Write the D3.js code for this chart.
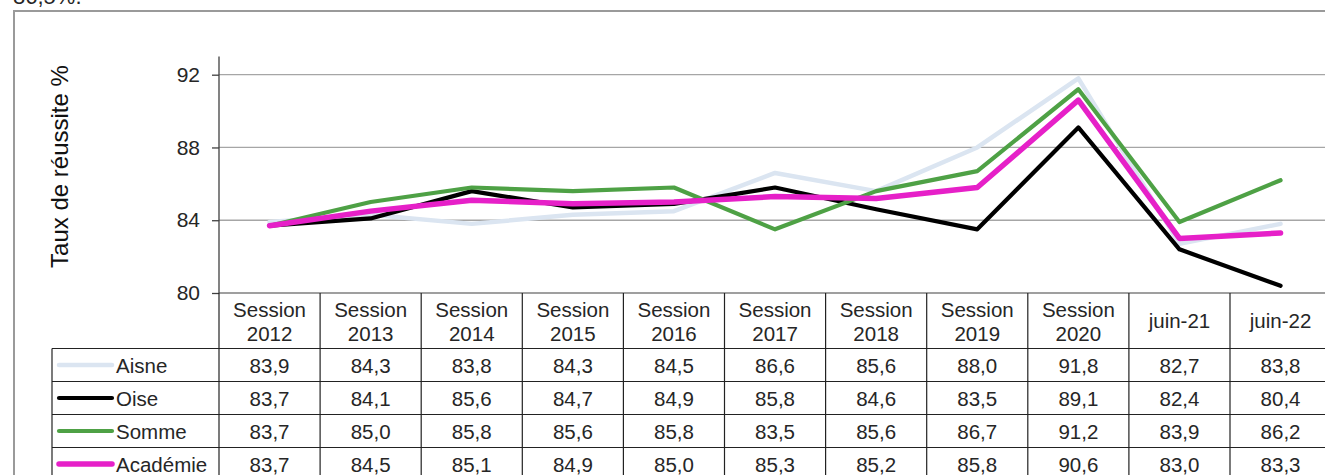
<!DOCTYPE html>
<html><head><meta charset="utf-8">
<script src="https://cdn.jsdelivr.net/npm/d3@7"></script>
<style>body{margin:0;background:#fff;overflow:hidden}svg{display:block;font-family:Arial,"Liberation Sans",sans-serif}</style>
</head><body><svg id="c" width="1325" height="475"></svg>
<script>
const categories = [["Session","2012"],["Session","2013"],["Session","2014"],["Session","2015"],["Session","2016"],["Session","2017"],["Session","2018"],["Session","2019"],["Session","2020"],["juin-21"],["juin-22"]];
const seriesNames = ["Aisne","Oise","Somme","Académie"];
const aisne = [83.9,84.3,83.8,84.3,84.5,86.6,85.6,88.0,91.8,82.7,83.8];
const oise = [83.7,84.1,85.6,84.7,84.9,85.8,84.6,83.5,89.1,82.4,80.4];
const somme = [83.7,85.0,85.8,85.6,85.8,83.5,85.6,86.7,91.2,83.9,86.2];
const academie = [83.7,84.5,85.1,84.9,85.0,85.3,85.2,85.8,90.6,83.0,83.3];
const yTicks = [80,84,88,92];
const colors = ["#dbe5f1","#000000","#4ea145","#e620c8"];
const widths = [4.5,4.2,4.2,5.5];
const values = [aisne, oise, somme, academie];
const FS = 20.5, TXT = "#262626";

const svg = d3.select("#c");
// cut-off text at top (as in reference)
svg.append("text").attr("x",13).attr("y",4).attr("font-size",22).attr("fill",TXT).text("86,5%.");
// outer frame
svg.append("path").attr("d","M14,475 V11 H1325").attr("fill","none").attr("stroke","#9a9a9a").attr("stroke-width",2);

const x0 = 219, colW = 101.1;
const x = d3.scaleBand().domain(d3.range(categories.length)).range([x0, x0 + colW*categories.length]);
const y = d3.scaleLinear().domain([80,93]).range([293,56.5]);

// gridlines
svg.append("g").selectAll("line").data(yTicks.filter(t=>t>80)).join("line")
  .attr("x1",x0).attr("x2",1325).attr("y1",d=>y(d)).attr("y2",d=>y(d))
  .attr("stroke","#a6a6a6").attr("stroke-width",1.3);

// y axis
const ax = svg.append("g").attr("transform",`translate(${x0},0)`)
  .call(d3.axisLeft(y).tickValues(yTicks).tickSize(7).tickPadding(12).tickFormat(d3.format("d")));
ax.select(".domain").attr("stroke","#404040").attr("stroke-width",1.3).attr("d",`M0,${y(93)}V${y(80)}`);
ax.selectAll(".tick line").attr("stroke","#404040").attr("stroke-width",1.3);
ax.selectAll(".tick text").attr("font-size",21).attr("fill",TXT).attr("font-family","Arial,'Liberation Sans',sans-serif");

// y title
svg.append("text").attr("transform",`translate(68,166.5) rotate(-90)`).attr("text-anchor","middle")
  .attr("font-size",24).attr("fill","#111").text("Taux de réussite %");

// lines
const line = d3.line().x((d,i)=>x(i)+x.bandwidth()/2).y(d=>y(d));
svg.append("g").selectAll("path").data(values).join("path")
  .attr("d",line).attr("fill","none").attr("stroke",(d,i)=>colors[i]).attr("stroke-width",(d,i)=>widths[i])
  .attr("stroke-linejoin","round").attr("stroke-linecap","round");

// table
const tTop = y(80), headH = 55.5, rowH = 33, legL = 52;
const tbl = svg.append("g").attr("stroke","#222").attr("stroke-width",1.2);
const tRight = x0 + colW*categories.length;
tbl.append("line").attr("x1",x0).attr("x2",tRight).attr("y1",tTop).attr("y2",tTop).attr("stroke","#404040");
for (let r=0; r<=seriesNames.length; r++) {
  const yy = tTop + headH + r*rowH;
  tbl.append("line").attr("x1",legL).attr("x2",tRight).attr("y1",yy).attr("y2",yy);
}
for (let c=0; c<=categories.length; c++) {
  const xx = x0 + c*colW;
  tbl.append("line").attr("x1",xx).attr("x2",xx).attr("y1",tTop).attr("y2",475);
}
tbl.append("line").attr("x1",legL).attr("x2",legL).attr("y1",tTop+headH).attr("y2",475);

// header text
categories.forEach((cat,i)=>{
  const cx = x(i)+x.bandwidth()/2;
  const t = svg.append("text").attr("text-anchor","middle").attr("font-size",FS).attr("fill",TXT);
  if (cat.length===2) {
    t.append("tspan").attr("x",cx).attr("y",tTop+23.5).text(cat[0]);
    t.append("tspan").attr("x",cx).attr("y",tTop+47.5).text(cat[1]);
  } else {
    t.attr("x",cx).attr("y",tTop+35).text(cat[0]);
  }
});

// rows
const fmt = v => v.toFixed(1).replace(".",",");
seriesNames.forEach((name,r)=>{
  const yTopRow = tTop + headH + r*rowH;
  const cy = yTopRow + rowH/2;
  svg.append("line").attr("x1",59).attr("x2",112).attr("y1",cy).attr("y2",cy)
    .attr("stroke",colors[r]).attr("stroke-width",widths[r]).attr("stroke-linecap","round");
  svg.append("text").attr("x",116).attr("y",cy+8).attr("font-size",FS).attr("fill",TXT).text(name);
  values[r].forEach((v,i)=>{
    svg.append("text").attr("x",x(i)+x.bandwidth()/2).attr("y",cy+8).attr("text-anchor","middle")
      .attr("font-size",FS).attr("fill",TXT).text(fmt(v));
  });
});
</script></body></html>
